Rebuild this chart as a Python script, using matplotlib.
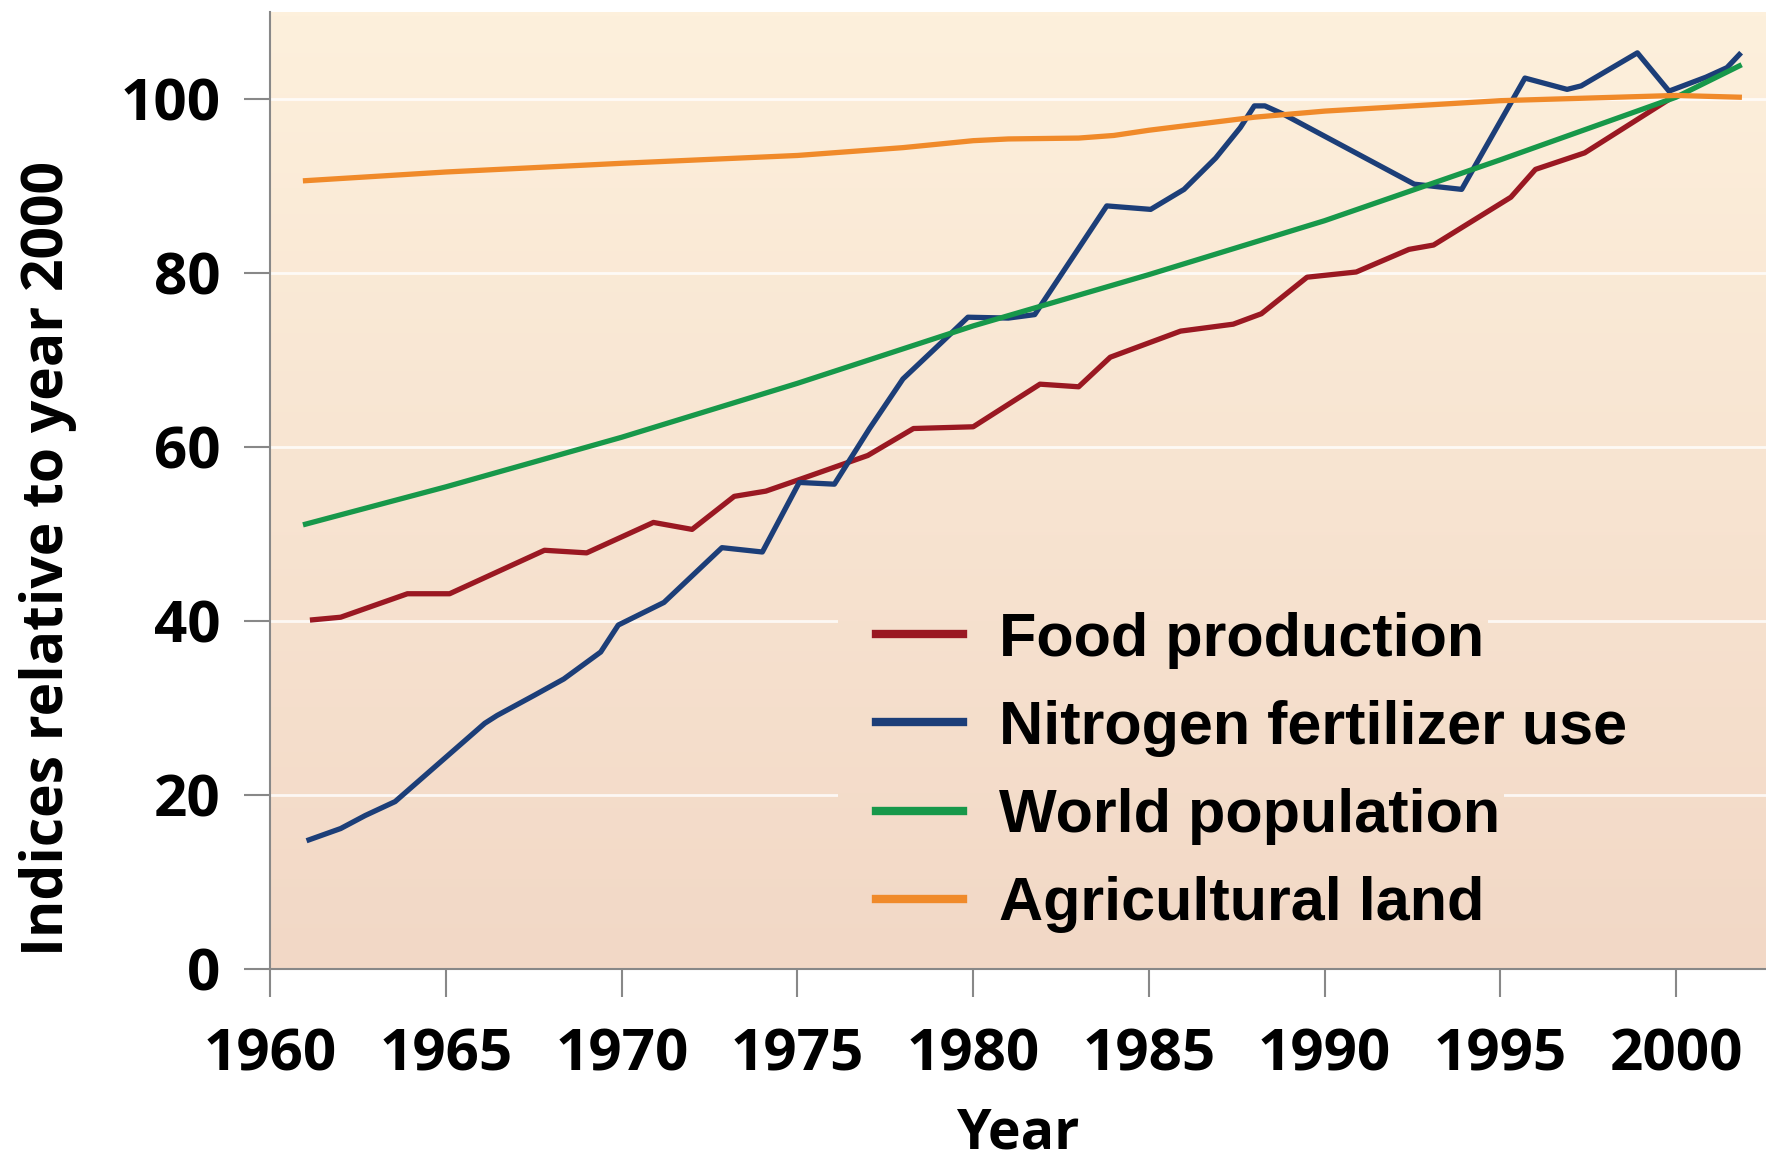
import numpy as np
import matplotlib
matplotlib.use("Agg")
import matplotlib.pyplot as plt
from matplotlib.colors import LinearSegmentedColormap
from matplotlib.path import Path
from matplotlib.patches import PathPatch

# values (index, year 2000 = 100)
food_years = [1961.2, 1962.0, 1963.9, 1965.1, 1967.8, 1969.0, 1970.9, 1972.0, 1973.2, 1974.1,
              1975.1, 1977.0, 1978.3, 1980.0, 1981.9, 1983.0, 1983.9, 1985.9, 1987.4, 1988.2,
              1989.5, 1990.9, 1992.4, 1993.1, 1995.3, 1996.0, 1997.4, 1999.9]
food = [40.1, 40.4, 43.1, 43.1, 48.1, 47.8, 51.3, 50.5, 54.3, 54.9,
        56.3, 59.0, 62.1, 62.3, 67.2, 66.9, 70.3, 73.3, 74.1, 75.3,
        79.5, 80.1, 82.7, 83.2, 88.7, 91.9, 93.8, 100.2]

nitro_years = [1961.1, 1962.0, 1962.7, 1963.55, 1966.1, 1966.45, 1967.5, 1968.35, 1969.4, 1969.9,
               1971.2, 1972.85, 1974.0, 1975.05, 1976.05, 1977.05, 1978.0, 1979.1, 1979.85, 1981.0,
               1981.75, 1983.8, 1985.05, 1986.0, 1986.9, 1987.6, 1988.0, 1988.3, 1988.85, 1992.55,
               1993.9, 1995.7, 1996.9, 1997.3, 1998.9, 1999.8, 2000.85, 2001.45, 2001.8]
nitro = [14.8, 16.1, 17.6, 19.2, 28.2, 29.1, 31.4, 33.3, 36.4, 39.5,
         42.1, 48.4, 47.9, 55.9, 55.7, 62.1, 67.8, 72.0, 74.9, 74.8,
         75.2, 87.7, 87.3, 89.6, 93.2, 96.7, 99.2, 99.2, 98.2, 90.2,
         89.6, 102.4, 101.1, 101.5, 105.3, 100.9, 102.5, 103.6, 105.1]

pop_years = [1961, 1965, 1970, 1975, 1980, 1985, 1990, 1995, 2000, 2001.8]
pop = [51.1, 55.4, 61.1, 67.3, 73.9, 79.8, 86.0, 93.0, 100.2, 103.8]

land_years = [1961, 1965, 1970, 1975, 1978, 1980, 1981, 1983, 1984, 1985, 1988, 1990, 1995, 2000, 2001.8]
land = [90.6, 91.6, 92.6, 93.5, 94.4, 95.2, 95.4, 95.5, 95.8, 96.4, 97.9, 98.6, 99.8, 100.4, 100.2]

labels = ["Food production", "Nitrogen fertilizer use", "World population", "Agricultural land"]
colors = ["#9a1822", "#1c3e78", "#17984a", "#f08a2a"]

bg_top = "#fdf0dc"
bg_bottom = "#f2d8c6"

fig = plt.figure(figsize=(17.66, 11.63), dpi=100)
ax = fig.add_axes([0.1531, 0.1672, 1 - 0.1531, 0.8225])

xmin, xmax = 1960, 2002.56
ymin, ymax = 0, 110

cmap = LinearSegmentedColormap.from_list("bg", [bg_top, bg_bottom])
grad = np.linspace(0, 1, 256).reshape(-1, 1)
ax.imshow(grad, cmap=cmap, aspect="auto", extent=[xmin, xmax, ymin, ymax], zorder=0)

lw = 3.8
ax.plot(food_years, food, color=colors[0], lw=lw, label=labels[0], zorder=3)
ax.plot(nitro_years, nitro, color=colors[1], lw=lw, label=labels[1], zorder=3)
ax.plot(pop_years, pop, color=colors[2], lw=lw, label=labels[2], zorder=3)
ax.plot(land_years, land, color=colors[3], lw=lw, label=labels[3], zorder=3)

ax.set_xlim(xmin, xmax)
ax.set_ylim(ymin, ymax)
ax.set_xticks(range(1960, 2001, 5))
ax.set_yticks(range(0, 101, 20))

ax.set_axisbelow(True)
ax.yaxis.grid(True, color="white", lw=2, alpha=0.8)

for s in ["top", "right"]:
    ax.spines[s].set_visible(False)
for s in ["left", "bottom"]:
    ax.spines[s].set_color("#888888")
    ax.spines[s].set_linewidth(1.5)

ax.tick_params(axis="x", length=20, width=1.5, color="#888888", pad=22)
ax.tick_params(axis="y", length=19, width=1.5, color="#888888", pad=17)
for t in ax.get_xticklabels() + ax.get_yticklabels():
    t.set_fontfamily("Open Sans")
    t.set_fontweight("bold")
    t.set_fontsize(42)

ax.set_ylabel("Indices relative to year 2000", family="Open Sans", weight="bold", fontsize=41)
ax.yaxis.label.set_va("center")
ax.yaxis.set_label_coords(-0.149, 0.4285)
ax.set_xlabel("Year", family="Open Sans", weight="bold", fontsize=40)
ax.xaxis.label.set_va("bottom")
ax.xaxis.set_label_coords(0.5, -0.2015)

leg = ax.legend(loc="upper left", bbox_to_anchor=(0.4734, 0.5082), bbox_transform=fig.transFigure,
                prop=dict(family="Liberation Sans", weight="bold", size=44),
                frameon=False, borderpad=0.65, labelspacing=0.51, handlelength=1.42,
                handletextpad=0.6, borderaxespad=0)
for line in leg.get_lines():
    line.set_linewidth(6)
leg.set_zorder(5)

# the legend entries sit on a patch of background that hides the gridlines
fig.canvas.draw()
renderer = fig.canvas.get_renderer()
inv = ax.transAxes.inverted()
verts, codes = [], []
for txt, hl in zip(leg.get_texts(), leg.get_lines()):
    tb = txt.get_window_extent(renderer)
    hb = hl.get_window_extent(renderer)
    (x0, y0), (x1, y1) = inv.transform([(hb.x0 - 38, tb.y0), (tb.x1 + 4, tb.y1)])
    verts += [(x0, y0), (x1, y0), (x1, y1), (x0, y1), (x0, y0)]
    codes += [Path.MOVETO, Path.LINETO, Path.LINETO, Path.LINETO, Path.CLOSEPOLY]
clip = PathPatch(Path(verts, codes), transform=ax.transAxes, facecolor="none", edgecolor="none")
cover = ax.imshow(grad, cmap=cmap, aspect="auto", extent=[xmin, xmax, ymin, ymax], zorder=1)
cover.set_clip_path(clip)
ax.set_xlim(xmin, xmax)
ax.set_ylim(ymin, ymax)

fig.savefig("out.png", dpi=100)
